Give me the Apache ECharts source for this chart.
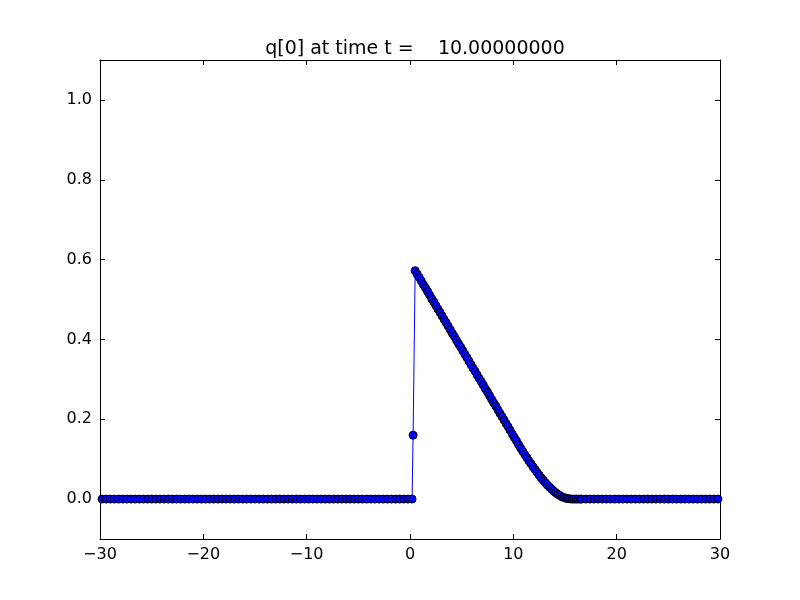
<!DOCTYPE html>
<html>
<head>
<meta charset="utf-8">
<script src="https://cdn.jsdelivr.net/npm/echarts@6/dist/echarts.min.js"></script>
<style>html,body{margin:0;padding:0;background:#fff}#c{width:800px;height:600px}</style>
</head>
<body>
<div id="c"></div>
<script>
var titleText = "q[0] at time t =    10.00000000";
var xTicks = [-30, -20, -10, 0, 10, 20, 30];
var yTicks = [0.0, 0.2, 0.4, 0.6, 0.8, 1.0];

// coarse level, left of the shock
var coarseLeftX = [-29.8,-29.4,-29.0,-28.6,-28.2,-27.8,-27.4,-27.0,-26.6,-26.2,-25.8,-25.4,-25.0,-24.6,-24.2,-23.8,-23.4,-23.0,-22.6,-22.2,-21.8,-21.4,-21.0,-20.6,-20.2,-19.8,-19.4,-19.0,-18.6,-18.2,-17.8,-17.4,-17.0,-16.6,-16.2,-15.8,-15.4,-15.0,-14.6,-14.2,-13.8,-13.4,-13.0,-12.6,-12.2,-11.8,-11.4,-11.0,-10.6,-10.2,-9.8,-9.4,-9.0,-8.6,-8.2,-7.8,-7.4,-7.0,-6.6,-6.2,-5.8,-5.4,-5.0,-4.6,-4.2,-3.8,-3.4,-3.0,-2.6,-2.2,-1.8,-1.4,-1.0,-0.6,-0.2,0.2];
var coarseLeftQ = [0,0,0,0,0,0,0,0,0,0,0,0,0,0,0,0,0,0,0,0,0,0,0,0,0,0,0,0,0,0,0,0,0,0,0,0,0,0,0,0,0,0,0,0,0,0,0,0,0,0,0,0,0,0,0,0,0,0,0,0,0,0,0,0,0,0,0,0,0,0,0,0,0,0,0,0];

// fine level, shock and decreasing wave
var fineX = [0.3,0.5,0.7,0.9,1.1,1.3,1.5,1.7,1.9,2.1,2.3,2.5,2.7,2.9,3.1,3.3,3.5,3.7,3.9,4.1,4.3,4.5,4.7,4.9,5.1,5.3,5.5,5.7,5.9,6.1,6.3,6.5,6.7,6.9,7.1,7.3,7.5,7.7,7.9,8.1,8.3,8.5,8.7,8.9,9.1,9.3,9.5,9.7,9.9,10.1,10.3,10.5,10.7,10.9,11.1,11.3,11.5,11.7,11.9,12.1,12.3,12.5,12.7,12.9,13.1,13.3,13.5,13.7,13.9,14.1,14.3,14.5,14.7,14.9,15.1,15.3,15.5,15.7,15.9,16.1,16.3,16.5];
var fineQ = [0.160,0.572,0.563,0.555,0.546,0.537,0.529,0.520,0.511,0.502,0.494,0.485,0.476,0.468,0.459,0.450,0.442,0.433,0.424,0.415,0.407,0.398,0.389,0.381,0.372,0.363,0.355,0.346,0.337,0.328,0.320,0.311,0.302,0.294,0.285,0.276,0.268,0.259,0.250,0.241,0.233,0.224,0.215,0.207,0.198,0.189,0.181,0.172,0.163,0.154,0.146,0.137,0.128,0.120,0.112,0.104,0.096,0.089,0.081,0.074,0.067,0.060,0.053,0.047,0.041,0.035,0.030,0.025,0.020,0.016,0.012,0.009,0.006,0.004,0.002,0.001,0.0005,0,0,0,0,0];

// coarse level, right of the wave
var coarseRightX = [16.6,17.0,17.4,17.8,18.2,18.6,19.0,19.4,19.8,20.2,20.6,21.0,21.4,21.8,22.2,22.6,23.0,23.4,23.8,24.2,24.6,25.0,25.4,25.8,26.2,26.6,27.0,27.4,27.8,28.2,28.6,29.0,29.4,29.8];
var coarseRightQ = [0,0,0,0,0,0,0,0,0,0,0,0,0,0,0,0,0,0,0,0,0,0,0,0,0,0,0,0,0,0,0,0,0,0];

function pairs(xs, ys){ var o=[]; for(var i=0;i<xs.length;i++) o.push([xs[i], ys[i]]); return o; }
var data = pairs(coarseLeftX, coarseLeftQ).concat(pairs(fineX, fineQ)).concat(pairs(coarseRightX, coarseRightQ));

var font = "DejaVu Sans";
function fmtX(v){ return (v < 0 ? "\u2212" + Math.abs(v) : String(v)); }
function fmtY(v){ return (v < 0 ? "\u2212" : "") + Math.abs(v).toFixed(1); }

var chart = echarts.init(document.getElementById('c'), null, {renderer:'canvas'});
var axLine = {show:true, onZero:false, lineStyle:{color:'#000', width:1}};
var tick = {show:true, inside:true, length:5, lineStyle:{color:'#000', width:1}};
chart.setOption({
  animation:false,
  backgroundColor:'#fff',
  title:{text:titleText, left:410, textAlign:'center', top:35,
    textStyle:{fontFamily:font, fontSize:19, fontWeight:'normal', color:'#000'}},
  grid:{left:100, right:80, top:60, bottom:61, containLabel:false},
  xAxis:[
    {type:'value', min:-30, max:30, position:'bottom',
     axisLine:axLine, splitLine:{show:false},
     axisTick:Object.assign({}, tick, {customValues:xTicks}),
     axisLabel:{customValues:xTicks, formatter:fmtX, margin:8, color:'#000', fontFamily:font, fontSize:16}},
    {type:'value', min:-30, max:30, position:'top',
     axisLine:axLine, splitLine:{show:false},
     axisTick:Object.assign({}, tick, {customValues:xTicks}),
     axisLabel:{show:false}}
  ],
  yAxis:[
    {type:'value', min:-0.1, max:1.1, position:'left',
     axisLine:axLine, splitLine:{show:false},
     axisTick:Object.assign({}, tick, {customValues:yTicks}),
     axisLabel:{customValues:yTicks, formatter:fmtY, margin:8, color:'#000', fontFamily:font, fontSize:16}},
    {type:'value', min:-0.1, max:1.1, position:'right',
     axisLine:axLine, splitLine:{show:false},
     axisTick:Object.assign({}, tick, {customValues:yTicks}),
     axisLabel:{show:false}}
  ],
  series:[{
    type:'line', xAxisIndex:0, yAxisIndex:0, data:data,
    symbol:'circle', symbolSize:8, showAllSymbol:true, sampling:null,
    lineStyle:{color:'#0000ff', width:1},
    itemStyle:{color:'#0000ff', borderColor:'#000', borderWidth:1},
    clip:false
  }]
});
</script>
</body>
</html>
